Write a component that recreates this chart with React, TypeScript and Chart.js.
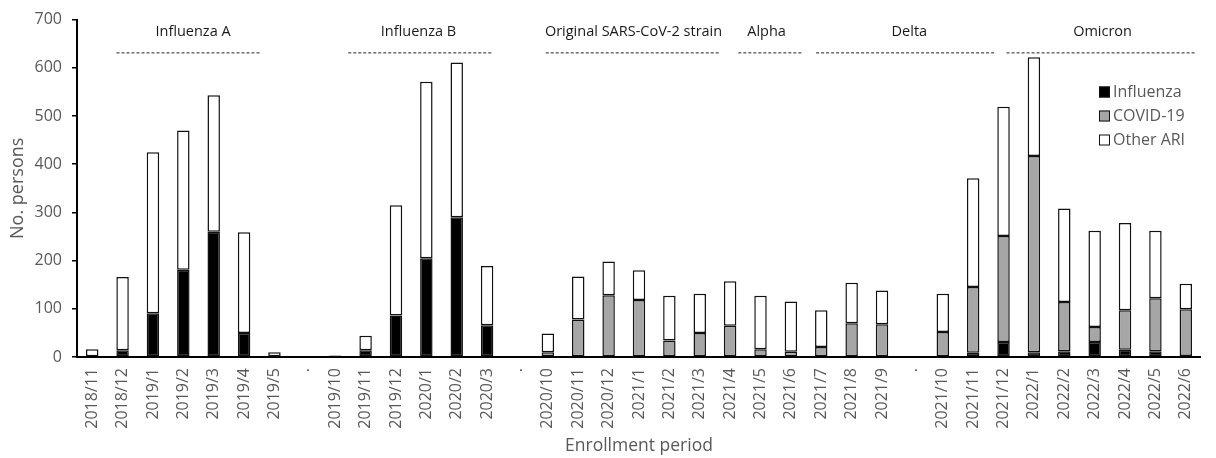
import React, { useEffect, useRef } from "react";
import { Chart, registerables } from "chart.js";

Chart.register(...registerables);

const categories = [
  "2018/11", "2018/12", "2019/1", "2019/2", "2019/3", "2019/4", "2019/5", ".",
  "2019/10", "2019/11", "2019/12", "2020/1", "2020/2", "2020/3", ".",
  "2020/10", "2020/11", "2020/12", "2021/1", "2021/2", "2021/3", "2021/4", "2021/5", "2021/6",
  "2021/7", "2021/8", "2021/9", ".",
  "2021/10", "2021/11", "2021/12", "2022/1", "2022/2", "2022/3", "2022/4", "2022/5", "2022/6",
];

const influenza = [
  0, 14, 91, 181, 260, 50, 0, 0,
  2, 14, 86, 205, 290, 66, 0,
  0, 0, 0, 0, 0, 0, 0, 0, 0,
  0, 0, 0, 0,
  0, 9, 31, 10, 12, 31, 15, 12, 2,
];

const covid19 = [
  0, 0, 0, 0, 0, 0, 0, 0,
  0, 0, 0, 0, 0, 0, 0,
  10, 78, 128, 118, 34, 50, 65, 16, 11,
  21, 70, 68, 0,
  52, 136, 220, 407, 102, 31, 82, 110, 97,
];

const otherARI = [
  16, 152, 334, 289, 283, 209, 10, 0,
  1, 30, 229, 366, 321, 123, 0,
  39, 89, 70, 62, 93, 81, 92, 111, 104,
  76, 84, 70, 0,
  79, 226, 268, 205, 194, 200, 181, 140, 53,
];

const yTicks = [0, 100, 200, 300, 400, 500, 600, 700];

// Period annotations (in category-index units)
const periodNames = ["Influenza A", "Influenza B", "Original SARS-CoV-2 strain", "Alpha", "Delta", "Omicron"];
const periodStart = [0.8, 8.43, 14.93, 21.27, 23.83, 30.1];
const periodEnd = [5.51, 13.18, 20.65, 23.38, 29.75, 36.3];
const periodLabelAt = [3.32, 10.74, 17.82, 22.2, 26.9, 33.26];

const FONT = "'Open Sans', 'Noto Sans', sans-serif";
const GRAY_TEXT = "#595959";

const nz = (arr: number[]) => arr.map((v) => (v === 0 ? null : v));

const periodPlugin = {
  id: "periodPlugin",
  afterDraw(chart: any) {
    const ctx = chart.ctx;
    const x = chart.scales.x;
    const y = chart.scales.y;
    ctx.save();
    const textY = y.getPixelForValue(675);
    const lineY = y.getPixelForValue(632);
    ctx.font = `14.5px ${FONT}`;
    ctx.fillStyle = "#1a1a1a";
    ctx.textAlign = "center";
    ctx.textBaseline = "middle";
    periodNames.forEach((name, i) => {
      ctx.fillText(name, x.getPixelForValue(periodLabelAt[i]), textY);
      ctx.beginPath();
      ctx.setLineDash([3, 2]);
      ctx.lineWidth = 1;
      ctx.strokeStyle = "#222";
      ctx.moveTo(x.getPixelForValue(periodStart[i]), lineY + 0.5);
      ctx.lineTo(x.getPixelForValue(periodEnd[i]), lineY + 0.5);
      ctx.stroke();
    });
    ctx.setLineDash([]);

    // legend
    const area = chart.chartArea;
    const bx = area.right - 102;
    const rowY = [92, 116, 140];
    ctx.font = `16px ${FONT}`;
    ctx.textAlign = "left";
    ctx.textBaseline = "middle";
    chart.data.datasets.forEach((ds: any, i: number) => {
      const cy = rowY[i];
      ctx.fillStyle = ds.backgroundColor;
      ctx.fillRect(bx, cy - 5.5, 11, 11);
      ctx.lineWidth = 1;
      ctx.strokeStyle = "#111";
      ctx.strokeRect(bx + 0.5, cy - 5, 10, 10);
      ctx.fillStyle = GRAY_TEXT;
      ctx.fillText(ds.label, bx + 14, cy);
    });
    ctx.restore();
  },
};

export default function App() {
  const canvasRef = useRef<HTMLCanvasElement | null>(null);

  useEffect(() => {
    document.body.style.margin = "0";
    const canvas = canvasRef.current;
    if (!canvas) return;
    const common = {
      borderColor: "#111",
      borderWidth: 1.5,
      borderSkipped: false as const,
      barPercentage: 0.41,
      categoryPercentage: 1.0,
    };
    const chart = new Chart(canvas, {
      type: "bar",
      data: {
        labels: categories,
        datasets: [
          { label: "Influenza", data: nz(influenza), backgroundColor: "#000000", ...common },
          { label: "COVID-19", data: nz(covid19), backgroundColor: "#a6a6a6", ...common },
          { label: "Other ARI", data: nz(otherARI), backgroundColor: "#ffffff", ...common },
        ],
      },
      options: {
        responsive: false,
        animation: false,
        devicePixelRatio: 1,
        layout: { padding: { top: 19, right: 0, left: 0, bottom: 0 } },
        plugins: {
          legend: { display: false },
          tooltip: { enabled: false },
        },
        scales: {
          x: {
            stacked: true,
            grid: { display: false, drawTicks: false },
            border: { display: true, color: "#000", width: 2 },
            ticks: {
              autoSkip: false,
              minRotation: 90,
              maxRotation: 90,
              padding: 11,
              color: GRAY_TEXT,
              font: { family: FONT, size: 16 },
            },
            title: {
              display: true,
              text: "Enrollment period",
              color: GRAY_TEXT,
              font: { family: FONT, size: 17.5 },
              padding: { top: 0, bottom: 1 },
            },
            afterFit(scale: any) {
              scale.height = 101;
            },
          },
          y: {
            stacked: true,
            min: 0,
            max: 700,
            afterBuildTicks(scale: any) {
              scale.ticks = yTicks.map((v) => ({ value: v }));
            },
            grid: {
              display: true,
              drawOnChartArea: false,
              drawTicks: true,
              tickLength: 5,
              color: "#000",
              lineWidth: 1.5,
            },
            border: { display: true, color: "#000", width: 2 },
            ticks: {
              padding: 10,
              color: GRAY_TEXT,
              font: { family: FONT, size: 16 },
            },
            title: {
              display: true,
              text: "No. persons",
              color: GRAY_TEXT,
              font: { family: FONT, size: 18 },
              padding: { top: 7, bottom: 0 },
            },
            afterFit(scale: any) {
              scale.width = 77;
            },
          },
        },
      },
      plugins: [periodPlugin],
    });
    return () => chart.destroy();
  }, []);

  return (
    <div style={{ width: 1216, height: 458 }}>
      <canvas ref={canvasRef} width={1216} height={458} style={{ display: "block" }} />
    </div>
  );
}
